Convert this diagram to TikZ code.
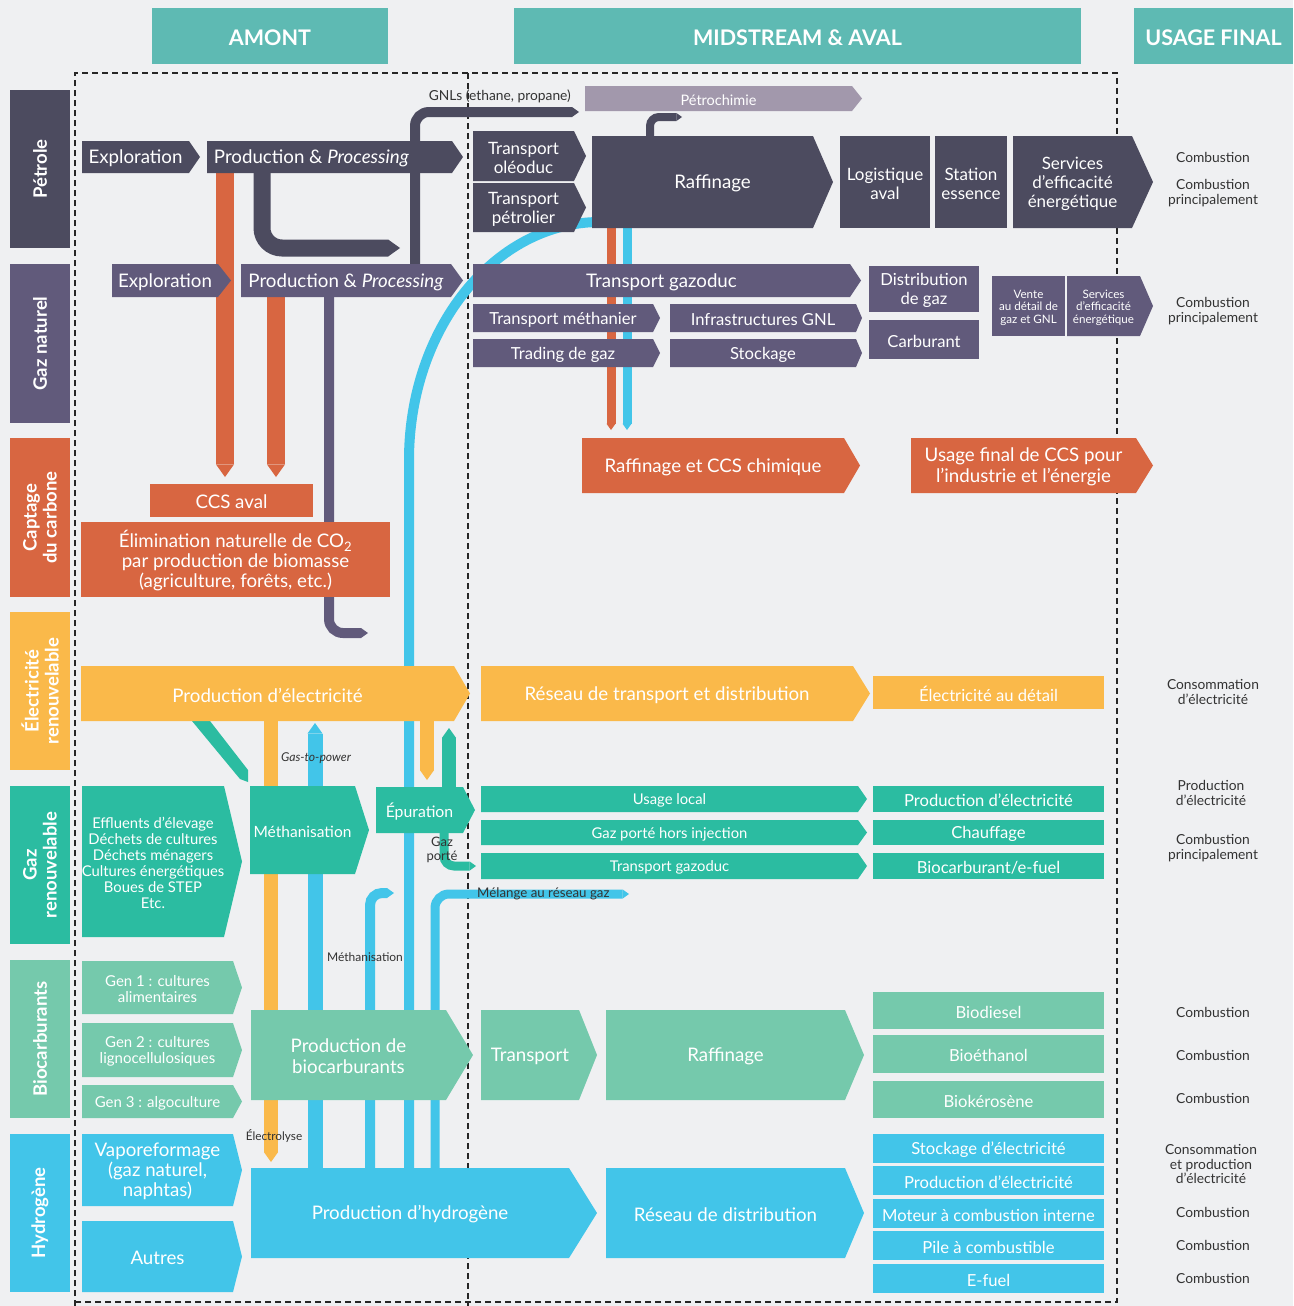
\documentclass[tikz,border=0pt]{standalone}
\usepackage{fontspec}
\setmainfont{Lato}
\usetikzlibrary{arrows.meta}
\definecolor{bgc}{HTML}{EFF0F2}
\definecolor{cHead}{HTML}{5EBAB3}
\definecolor{cPet}{HTML}{4C4B5F}
\definecolor{cGaz}{HTML}{615A7B}
\definecolor{cPch}{HTML}{A298AC}
\definecolor{cOr}{HTML}{D86641}
\definecolor{cYel}{HTML}{FAB94A}
\definecolor{cTeal}{HTML}{2BBCA1}
\definecolor{cGreen}{HTML}{75C9AC}
\definecolor{cBlue}{HTML}{42C5E9}
\definecolor{cTxt}{HTML}{333333}
\newcommand\fs[2]{\fontsize{#1}{#2}\selectfont}
\newcommand\fL{\fs{18.7}{21}}
\newcommand\fM{\fs{16.6}{19}}
% pentagon box: name, x1, y1, shoulder x, y2, tip x, colour, font, text
\newcommand\pbox[9]{%
  \fill[#7] (#2,#3) -- (#4,#3) -- (#6,{(#3+#5)/2}) -- (#4,#5) -- (#2,#5) -- cycle;
  \node[btxt,font=#8,minimum width={(#4-#2)*1pt},minimum height={(#5-#3)*1pt}] (#1) at ({(#2+#4)/2},{(#3+#5)/2}) {#9};%
}
% rectangle box: name, x1, y1, x2, y2, colour, font, text
\newcommand\rbox[8]{%
  \fill[#6] (#2,#3) rectangle (#4,#5);
  \node[btxt,font=#7,minimum width={(#4-#2)*1pt},minimum height={(#5-#3)*1pt}] (#1) at ({(#2+#4)/2},{(#3+#5)/2}) {#8};%
}
% row label: name, y1, y2, colour, text
\newcommand\rowlab[5]{%
  \fill[#4] (10,#2) rectangle (70,#3);
  \node[text=white, align=center, inner sep=0pt, rotate=90, font=\bfseries\fs{18.5}{20}] (#1) at (40,{(#2+#3)/2}) {#5};%
}
\tikzset{
  btxt/.style={text=white, align=center, inner sep=0pt, yshift=-1.5pt},
  utxt/.style={text=cTxt, align=center, inner sep=0pt, font=\fs{13.8}{14.5}},
  ltxt/.style={text=cTxt, align=center, inner sep=0pt},
  tipend/.style={-{Triangle[width=0pt 1,length=0pt 0.7,line width=0pt]}},
  dashline/.style={draw=black!85, line width=1.3pt, dash pattern=on 6pt off 4pt},
}
\begin{document}
\begin{tikzpicture}[x=1pt,y=-1pt]
\useasboundingbox (0,0) rectangle (1293,1306);
\fill[bgc] (0,0) rectangle (1293,1306);

% dashed frames
\draw[dashline] (75,1306) -- (75,73) -- (1117,73) -- (1117,1302) -- (75,1302);
\draw[dashline] (468,73) -- (468,1306);

% headers
\rbox{hA}{152}{8}{388}{64}{cHead}{\bfseries\fs{21.5}{25}}{AMONT}
\rbox{hM}{514}{8}{1081}{64}{cHead}{\bfseries\fs{21.5}{25}}{MIDSTREAM \& AVAL}
\rbox{hU}{1134}{8}{1293}{64}{cHead}{\bfseries\fs{21.5}{25}}{USAGE FINAL}

% row labels
\rowlab{rP}{90}{248}{cPet}{Pétrole}
\rowlab{rG}{264}{423}{cGaz}{Gaz naturel}
\rowlab{rC}{438}{597}{cOr}{Captage\\du carbone}
\rowlab{rE}{612}{770}{cYel}{Électricité\\renouvelable}
\rowlab{rR}{786}{944}{cTeal}{Gaz\\renouvelable}
\rowlab{rB}{960}{1118}{cGreen}{Biocarburants}
\rowlab{rH}{1134}{1292}{cBlue}{Hydrogène}

% named free ends of connectors
\coordinate (lTip) at (400,248);
\coordinate (gnlTip) at (579,112);
\coordinate (pchTip) at (682,117);
\coordinate (oTipA) at (225,477);
\coordinate (oTipB) at (276,477);
\coordinate (gTip) at (368,633);
\coordinate (oTipC) at (611,430);
\coordinate (bTipC) at (627,430);
\coordinate (yTipA) at (271,1162);
\coordinate (bTipA) at (315,723);
\coordinate (yTipB) at (427,780);
\coordinate (tTipA) at (449,728);
\coordinate (gpTip) at (476,866);
\coordinate (bhTip) at (394,893);
\coordinate (melTip) at (629,894);

% connectors (drawn beneath the boxes)
\draw[cPet, line width=17pt, tipend, rounded corners=20pt] (262,173) -- (262,248) -- (lTip);
\draw[cPet, line width=10pt, tipend, rounded corners=14pt] (415,264) -- (415,112) -- (gnlTip);
\draw[cPet, line width=8pt, tipend, rounded corners=9pt] (650,136) -- (650,117) -- (pchTip);
\draw[cOr, line width=18pt, tipend] (225,173) -- (oTipA);
\draw[cOr, line width=18pt, tipend] (276,297) -- (oTipB);
\draw[cGaz, line width=10pt, tipend, rounded corners=14pt] (329,297) -- (329,633) -- (gTip);
\draw[cOr, line width=9pt, tipend] (611,228) -- (oTipC);
\draw[cBlue, line width=9pt, tipend] (627,228) -- (bTipC);
\draw[cBlue, line width=10pt] (600,222) .. controls (494.5,222) and (409,328.6) .. (409,460) -- (409,1168);
\draw[cYel, line width=14pt, tipend] (271,721) -- (yTipA);
\draw[cBlue, line width=15pt, tipend] (315,1168) -- (bTipA);
\draw[cYel, line width=14pt, tipend] (427,721) -- (yTipB);
\draw[cTeal, line width=14pt, tipend] (449,787) -- (tTipA);
\draw[cTeal, line width=9pt, tipend, rounded corners=10pt] (444,833) -- (444,866) -- (gpTip);
\draw[cBlue, line width=10pt, tipend, rounded corners=12pt] (370,1168) -- (370,893) -- (bhTip);
\draw[cBlue, line width=9pt, tipend, rounded corners=14pt] (435,1168) -- (435,894) -- (melTip);
\fill[cTeal] (192,721) -- (210,721) -- (248,770) -- (248,782) -- (240,779) -- cycle;

% Petrole row
\pbox{exA}{82}{141}{189}{173}{200}{cPet}{\fL}{Exploration}
\pbox{ppA}{207}{141}{452}{173}{463}{cPet}{\fL}{Production \& \textit{Processing}\hspace*{36pt}}
\pbox{tOl}{473}{131}{574}{181}{586}{cPet}{\fs{17}{19}}{Transport\\oléoduc}
\pbox{tPe}{473}{183}{574}{232}{586}{cPet}{\fs{17}{19}}{Transport\\pétrolier}
\pbox{raf}{592}{136}{813}{228}{833}{cPet}{\fL}{\hspace*{20pt}Raffinage}
\rbox{log}{840}{136}{930}{228}{cPet}{\fs{17}{19}}{Logistique\\aval}
\rbox{sta}{935}{136}{1007}{228}{cPet}{\fs{17}{19}}{Station\\essence}
\pbox{sef}{1013}{136}{1132}{228}{1153}{cPet}{\fs{17}{19}}{Services\\d’efficacité\\énergétique}
\pbox{pch}{585}{86}{852}{111}{862}{cPch}{\fs{14.5}{16}}{Pétrochimie}

% Gaz naturel row
\pbox{exG}{112}{264}{218}{297}{231}{cGaz}{\fL}{Exploration}
\pbox{ppG}{241}{264}{451}{297}{463}{cGaz}{\fL}{Production \& \textit{Processing}}
\pbox{tGz}{473}{264}{850}{297}{861}{cGaz}{\fL}{Transport gazoduc}
\pbox{tMe}{473}{304}{653}{332}{660}{cGaz}{\fM}{Transport méthanier}
\pbox{trd}{473}{339}{653}{367}{660}{cGaz}{\fM}{Trading de gaz}
\pbox{gnl}{670}{304}{856}{332}{862}{cGaz}{\fM}{Infrastructures GNL}
\pbox{stk}{670}{339}{856}{367}{862}{cGaz}{\fM}{Stockage}
\rbox{dis}{869}{266}{979}{312}{cGaz}{\fM}{Distribution\\de gaz}
\rbox{car}{869}{320}{979}{359}{cGaz}{\fM}{Carburant}
\rbox{ven}{992}{276}{1065}{336}{cGaz}{\fs{11.6}{12.5}}{Vente\\au détail de\\gaz et GNL}
\pbox{sef2}{1067}{276}{1140}{336}{1153}{cGaz}{\fs{11.6}{12.5}}{Services\\d’efficacité\\énergétique}

% Captage du carbone row
\rbox{ccs}{150}{484}{313}{517}{cOr}{\fL}{CCS aval}
\rbox{eli}{81}{522}{390}{597}{cOr}{\fs{18.7}{20}}{Élimination naturelle de CO\textsubscript{2}\\par production de biomasse\\(agriculture, forêts, etc.)}
\pbox{rcc}{582}{438}{844}{493}{860}{cOr}{\fL}{Raffinage et CCS chimique}
\pbox{ufc}{911}{438}{1136}{493}{1153}{cOr}{\fL}{Usage final de CCS pour\\l’industrie et l’énergie}

% Electricite row
\pbox{pel}{81}{666}{454}{721}{470}{cYel}{\fL}{Production d’électricité}
\pbox{rtd}{481}{666}{853}{721}{870}{cYel}{\fL}{Réseau de transport et distribution}
\rbox{edt}{873}{676}{1104}{709}{cYel}{\fM}{Électricité au détail}

% Gaz renouvelable row
\pbox{eff}{82}{786}{224}{937}{242}{cTeal}{\fs{14.8}{16}}{Effluents d’élevage\\Déchets de cultures\\Déchets ménagers\\Cultures énergétiques\\Boues de STEP\\Etc.}
\pbox{met}{250}{786}{355}{874}{369}{cTeal}{\fs{15.5}{18}}{Méthanisation}
\pbox{epu}{376}{787}{463}{833}{475}{cTeal}{\fs{15.8}{18}}{Épuration}
\pbox{ul}{481}{786}{858}{812}{867}{cTeal}{\fs{14.8}{16}}{Usage local}
\pbox{gph}{481}{820}{858}{845}{867}{cTeal}{\fs{14.8}{16}}{Gaz porté hors injection}
\pbox{tg2}{481}{853}{858}{879}{867}{cTeal}{\fs{14.8}{16}}{Transport gazoduc}
\rbox{pe2}{873}{786}{1104}{812}{cTeal}{\fM}{Production d’électricité}
\rbox{chf}{873}{820}{1104}{845}{cTeal}{\fM}{Chauffage}
\rbox{bef}{873}{853}{1104}{879}{cTeal}{\fM}{Biocarburant/e-fuel}

% Biocarburants row
\pbox{g1}{82}{961}{233}{1014}{242}{cGreen}{\fs{15}{16.5}}{Gen 1 : cultures\\alimentaires}
\pbox{g2}{82}{1023}{233}{1077}{242}{cGreen}{\fs{15}{16.5}}{Gen 2 : cultures\\lignocellulosiques}
\pbox{g3}{82}{1085}{233}{1118}{242}{cGreen}{\fs{15}{16.5}}{Gen 3 : algoculture}
\pbox{pbc}{251}{1010}{446}{1100}{473}{cGreen}{\fL}{Production de\\biocarburants}
\pbox{trp}{481}{1010}{579}{1100}{597}{cGreen}{\fL}{Transport}
\pbox{rfb}{606}{1010}{845}{1100}{864}{cGreen}{\fL}{Raffinage}
\rbox{bd}{873}{992}{1104}{1029}{cGreen}{\fM}{Biodiesel}
\rbox{be}{873}{1035}{1104}{1073}{cGreen}{\fM}{Bioéthanol}
\rbox{bk}{873}{1081}{1104}{1118}{cGreen}{\fM}{Biokérosène}

% Hydrogene row
\pbox{vap}{82}{1134}{233}{1206}{242}{cBlue}{\fs{18.7}{20}}{Vaporeformage\\(gaz naturel,\\naphtas)}
\pbox{aut}{82}{1221}{233}{1292}{242}{cBlue}{\fL}{Autres}
\pbox{phy}{251}{1168}{569}{1258}{597}{cBlue}{\fL}{Production d’hydrogène}
\pbox{rdd}{606}{1168}{845}{1258}{864}{cBlue}{\fL}{Réseau de distribution}
\rbox{sel}{873}{1134}{1104}{1163}{cBlue}{\fM}{Stockage d’électricité}
\rbox{pe3}{873}{1166}{1104}{1195}{cBlue}{\fM}{Production d’électricité}
\rbox{mci}{873}{1199}{1104}{1228}{cBlue}{\fM}{Moteur à combustion interne}
\rbox{pac}{873}{1231}{1104}{1260}{cBlue}{\fM}{Pile à combustible}
\rbox{efu}{873}{1264}{1104}{1293}{cBlue}{\fM}{E-fuel}

% connector labels
\node[ltxt, anchor=east, font=\fs{13.8}{15}] (lGNL) at (571,96) {GNLs (ethane, propane)};
\node[ltxt, font=\itshape\fs{12.2}{13}] (lG2P) at (316,758) {Gas-to-power};
\node[ltxt, font=\fs{13}{14.5}] (lGP) at (442,850) {Gaz\\porté};
\node[ltxt, anchor=west, font=\fs{13.3}{15}] (lMel) at (477,894) {Mélange au réseau gaz};
\node[ltxt, font=\fs{12}{13}] (lMet) at (365,957) {Méthanisation};
\node[ltxt, font=\fs{11.8}{13}] (lEle) at (274,1136) {Électrolyse};

% usage final column
\node[utxt] (u1) at (1213,157) {Combustion};
\node[utxt] (u2) at (1213,193) {Combustion\\principalement};
\node[utxt] (u3) at (1213,311) {Combustion\\principalement};
\node[utxt] (u4) at (1213,692) {Consommation\\d’électricité};
\node[utxt] (u5) at (1211,793) {Production\\d’électricité};
\node[utxt] (u6) at (1213,848) {Combustion\\principalement};
\node[utxt] (u7) at (1213,1012) {Combustion};
\node[utxt] (u8) at (1213,1055) {Combustion};
\node[utxt] (u9) at (1213,1098) {Combustion};
\node[utxt] (u10) at (1211,1164) {Consommation\\et production\\d’électricité};
\node[utxt] (u11) at (1213,1212) {Combustion};
\node[utxt] (u12) at (1213,1245) {Combustion};
\node[utxt] (u13) at (1213,1278) {Combustion};
\end{tikzpicture}
\end{document}
